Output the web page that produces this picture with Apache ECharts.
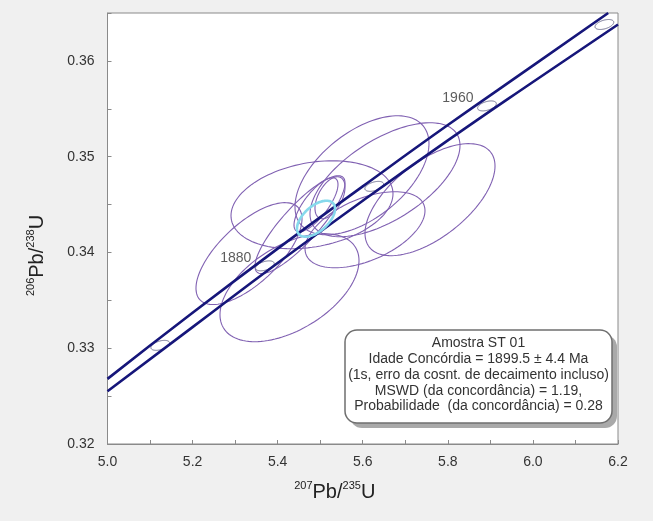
<!DOCTYPE html>
<html><head><meta charset="utf-8">
<script src="https://cdn.jsdelivr.net/npm/echarts@6/dist/echarts.min.js"></script>
<style>html,body{margin:0;padding:0;background:#f0f0f0}#c{width:653px;height:521px}</style>
</head><body><div id="c"></div>
<script>
// ---- data ----
const xRange = [5.0, 6.2];
const yRange = [0.32, 0.365];
// concordia band (decay-constant envelope), two edges
const upperBand = [[5.0,0.3268],[5.2,0.3337],[5.4,0.3404],[5.6,0.3469],[5.8,0.3533],[6.0,0.3595],[6.177,0.3650]];
const lowerBand = [[5.0,0.3255],[5.2,0.3322],[5.4,0.3389],[5.6,0.3454],[5.8,0.3517],[6.0,0.3578],[6.2,0.3638]];
// age marks on concordia (Ma)
const ageX = [5.124, 5.370, 5.627, 5.892, 6.168];
const ageY = [0.3303, 0.3386, 0.3469, 0.3553, 0.3638];
const ageNames = ['', '1880', '', '1960', ''];
// analysis ellipses: [x, y, half-width x, half-height y, correlation]
const spotEllipses = [
  [5.4807, 0.34498, 0.1904, 0.00459, 0.25],
  [5.3326, 0.33988, 0.1246, 0.00532, 0.68],
  [5.4278, 0.33632, 0.1634, 0.00564, 0.50],
  [5.7581, 0.34551, 0.1528, 0.00585, 0.60],
  [5.6053, 0.34237, 0.1410, 0.00397, 0.50],
  [5.5982, 0.34806, 0.1575, 0.00621, 0.53],
  [5.6523, 0.34759, 0.1763, 0.00595, 0.60],
  [5.4525, 0.34290, 0.1058, 0.00511, 0.85],
  [5.4901, 0.34498, 0.0517, 0.00282, 0.75],
  [5.5230, 0.34571, 0.0353, 0.00219, 0.50]
];
const concordiaEllipse = [[5.4901, 0.34352, 0.0447, 0.00188, 0.55]];
const infoLines = [
  'Amostra ST 01',
  'Idade Concórdia = 1899.5 ± 4.4 Ma',
  '(1s, erro da cosnt. de decaimento incluso)',
  'MSWD (da concordância) = 1.19,',
  'Probabilidade  (da concordância) = 0.28'
];

const FONT = 'Liberation Sans, Arial, sans-serif';
function ellipsePoints(api, cx, cy, dx, dy, r) {
  const pts = [], s = Math.sqrt(1 - r * r), n = 120;
  for (let i = 0; i < n; i++) {
    const t = i / n * 2 * Math.PI;
    pts.push(api.coord([cx + dx * Math.cos(t), cy + dy * (r * Math.cos(t) + s * Math.sin(t))]));
  }
  return pts;
}
function ellRenderer(stroke, width, fill) {
  return function (params, api) {
    return {
      type: 'polygon',
      shape: { points: ellipsePoints(api, api.value(0), api.value(1), api.value(2), api.value(3), api.value(4)) },
      style: { fill: fill || 'none', stroke: stroke, lineWidth: width }
    };
  };
}
const markData = ageX.map((x, i) => [x, ageY[i], 0.022, 0.00052, 0.45]);
const labelData = ageX.map((x, i) => ({ value: [x, ageY[i]], name: ageNames[i] })).filter(d => d.name);

const chart = echarts.init(document.getElementById('c'));
chart.setOption({
  backgroundColor: '#f0f0f0',
  animation: false,
  grid: { left: 107.5, right: 35, top: 13, bottom: 77, show: true, backgroundColor: '#fff', borderColor: '#8a8a8a', borderWidth: 1 },
  xAxis: {
    type: 'value', min: xRange[0], max: xRange[1], interval: 0.2,
    name: '{s|207}{b|Pb/}{s|235}{b|U}', nameLocation: 'middle', nameGap: 36,
    nameTextStyle: { padding: [0, 56, 0, 0], rich: {
      s: { fontSize: 11, fontFamily: FONT, color: '#222', verticalAlign: 'top', lineHeight: 22 },
      b: { fontSize: 20, fontFamily: FONT, color: '#222', verticalAlign: 'bottom', lineHeight: 22 } } },
    axisLine: { show: true, lineStyle: { color: '#8a8a8a', width: 1 } },
    axisTick: { show: true, inside: true, length: 4, lineStyle: { color: '#8a8a8a' } },
    minorTick: { show: true, splitNumber: 2, length: 4, lineStyle: { color: '#8a8a8a' } },
    splitLine: { show: false },
    axisLabel: { formatter: v => v.toFixed(1), fontSize: 14, color: '#333', margin: 11, fontFamily: FONT }
  },
  yAxis: {
    type: 'value', min: yRange[0], max: yRange[1], interval: 0.01,
    name: '{s|206}{b|Pb/}{s|238}{b|U}', nameLocation: 'middle', nameGap: 60, nameRotate: 90,
    nameTextStyle: { padding: [0, 54, 0, 0], rich: {
      s: { fontSize: 11, fontFamily: FONT, color: '#222', verticalAlign: 'top', lineHeight: 22 },
      b: { fontSize: 20, fontFamily: FONT, color: '#222', verticalAlign: 'bottom', lineHeight: 22 } } },
    axisLine: { show: true, lineStyle: { color: '#8a8a8a', width: 1 } },
    axisTick: { show: true, inside: true, length: 4, lineStyle: { color: '#8a8a8a' } },
    minorTick: { show: true, splitNumber: 2, length: 4, lineStyle: { color: '#8a8a8a' } },
    splitLine: { show: false },
    axisLabel: { formatter: v => v.toFixed(2), fontSize: 14, color: '#333', margin: 13, fontFamily: FONT, showMaxLabel: false }
  },
  series: [
    { type: 'custom', name: 'spots', data: spotEllipses, renderItem: ellRenderer('#8061b2', 1.1), clip: true, z: 2 },
    { type: 'custom', name: 'ageMarks', data: markData, renderItem: ellRenderer('#6e6e8e', 1, '#ffffff'), clip: true, z: 3 },
    { type: 'line', name: 'upper', data: upperBand, smooth: true, symbol: 'none', lineStyle: { color: '#16167a', width: 2.6 }, z: 4 },
    { type: 'line', name: 'lower', data: lowerBand, smooth: true, symbol: 'none', lineStyle: { color: '#16167a', width: 2.6 }, z: 4 },
    { type: 'custom', name: 'concordia', data: concordiaEllipse, renderItem: ellRenderer('#86d9ec', 2.6), clip: true, z: 5 },
    { type: 'scatter', name: 'ageLabels', data: labelData, symbolSize: 1, itemStyle: { color: 'rgba(0,0,0,0)' }, z: 6,
      label: { show: true, formatter: p => p.name, position: 'left', distance: 13, offset: [0, -8], fontSize: 14, color: '#333', fontFamily: FONT } }
  ],
  graphic: [
    { type: 'rect', shape: { x: 350, y: 335, width: 267, height: 93, r: 12 }, style: { fill: '#a9a9a9' }, z: 10 },
    { type: 'rect', shape: { x: 345, y: 330, width: 267, height: 93, r: 12 }, style: { fill: '#fff', stroke: '#6f6f6f', lineWidth: 1.5 }, z: 11 },
    { type: 'text', x: 478.5, y: 335.5, z: 12, style: { text: infoLines.join('\n'), font: '14px ' + FONT, fill: '#333', align: 'center', verticalAlign: 'top', lineHeight: 15.8 } }
  ]
});
</script></body></html>
